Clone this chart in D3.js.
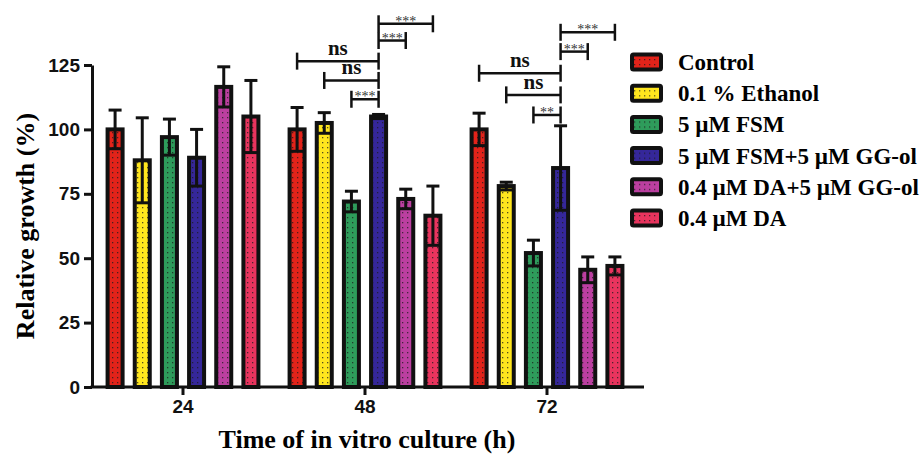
<!DOCTYPE html>
<html>
<head>
<meta charset="utf-8">
<script src="https://cdn.jsdelivr.net/npm/d3@7"></script>
<style>
  body { margin: 0; background: #fff; }
  svg { display: block; }
</style>
</head>
<body>
<div id="chart"></div>
<script>
// data
var groups = ["24", "48", "72"];
var treatments = ["Control", "0.1 % Ethanol", "5 \u00b5M FSM", "5 \u00b5M FSM+5 \u00b5M GG-ol", "0.4 \u00b5M DA+5 \u00b5M GG-ol", "0.4 \u00b5M DA"];
var colors = ["#e2231a", "#ffe61e", "#2e9c5b", "#35279a", "#bb3fa0", "#e8345e"];
var means24 = [100, 88, 97, 89, 116.5, 105];
var sd24 = [7.5, 16.5, 7, 11, 7.8, 14];
var means48 = [100, 102.5, 72, 105, 73, 66.5];
var sd48 = [8.5, 4, 4, 0.8, 3.8, 11.5];
var means72 = [100, 78, 52, 85, 45.5, 47];
var sd72 = [6.3, 1.5, 5, 16.4, 5, 3.5];
var yTicks = [0, 25, 50, 75, 100, 125];

// significance brackets: group, from bar, to bar, height (%), label
var brackets = [
  ["48", 3, 5, 141, "***"], ["48", 3, 4, 134.5, "***"], ["48", 0, 3, 126.5, "ns"],
  ["48", 1, 3, 119, "ns"], ["48", 2, 3, 111.7, "***"],
  ["72", 3, 5, 137.7, "***"], ["72", 3, 4, 130.2, "***"], ["72", 0, 3, 121.8, "ns"],
  ["72", 1, 3, 113.4, "ns"], ["72", 2, 3, 105.6, "**"]
];

var means = [means24, means48, means72];
var sds = [sd24, sd48, sd72];

const w = 924, h = 456;
const serif = "'Liberation Serif', 'Times New Roman', serif";
const sans = "'Liberation Sans', Arial, sans-serif";

const svg = d3.select("#chart").append("svg").attr("width", w).attr("height", h);

// dotted fills
var defs = svg.append("defs");
colors.forEach(function(c, i) {
  var p = defs.append("pattern").attr("id", "pat" + i)
    .attr("patternUnits", "userSpaceOnUse").attr("width", 5).attr("height", 5);
  p.append("rect").attr("width", 5).attr("height", 5).attr("fill", c);
  p.append("rect").attr("x", 2).attr("y", 2).attr("width", 1.3).attr("height", 1.3).attr("fill", "#1a1a1a").attr("opacity", 0.75);
});

const x = d3.scaleBand().domain(groups).range([92, 638]);
const xi = d3.scaleBand().domain(d3.range(treatments.length)).range([0, x.bandwidth()])
  .paddingInner(0.3).paddingOuter(0.5);
const y = d3.scaleLinear().domain([0, 125]).range([387, 65]);
const bw = xi.bandwidth();

function cx(g, i) { return x(g) + xi(i) + bw / 2; }

// bars
var rows = [];
groups.forEach(function(g, gi) {
  treatments.forEach(function(t, i) {
    rows.push({ g: g, i: i, v: means[gi][i], sd: sds[gi][i] });
  });
});

svg.selectAll("rect.bar").data(rows).enter().append("rect")
  .attr("class", "bar")
  .attr("x", d => x(d.g) + xi(d.i) + 2)
  .attr("y", d => y(d.v))
  .attr("width", bw - 4)
  .attr("height", d => y(0) - y(d.v))
  .attr("fill", d => "url(#pat" + d.i + ")")
  .attr("stroke", "#111").attr("stroke-width", 4);

// error bars
var eb = svg.append("g").attr("stroke", "#111").attr("stroke-width", 3);
rows.forEach(function(d) {
  var c = cx(d.g, d.i);
  eb.append("line").attr("x1", c).attr("x2", c).attr("y1", y(d.v + d.sd)).attr("y2", y(d.v - d.sd));
  eb.append("line").attr("x1", c - 6.5).attr("x2", c + 6.5).attr("y1", y(d.v + d.sd)).attr("y2", y(d.v + d.sd));
  eb.append("line").attr("x1", c - 6.5).attr("x2", c + 6.5).attr("y1", y(d.v - d.sd)).attr("y2", y(d.v - d.sd));
});

// brackets
var br = svg.append("g");
brackets.forEach(function(b) {
  var x1 = cx(b[0], b[1]), x2 = cx(b[0], b[2]), yy = y(b[3]);
  var l = Math.min(x1, x2), r = Math.max(x1, x2);
  var gg = br.append("g").attr("stroke", "#111").attr("stroke-width", 2.5);
  gg.append("line").attr("x1", l).attr("x2", r).attr("y1", yy).attr("y2", yy);
  gg.append("line").attr("x1", l).attr("x2", l).attr("y1", yy - 8.5).attr("y2", yy + 8.5);
  gg.append("line").attr("x1", r).attr("x2", r).attr("y1", yy - 8.5).attr("y2", yy + 8.5);
  var isNs = b[4] == "ns";
  br.append("text")
    .attr("x", (l + r) / 2)
    .attr("y", isNs ? yy - 6 : yy + 2)
    .attr("text-anchor", "middle")
    .style("font-family", serif)
    .style("font-weight", isNs ? "bold" : "normal")
    .style("font-size", isNs ? "21px" : "14px")
    .style("fill", isNs ? "#111" : "#333")
    .text(b[4]);
});

// y axis
var ya = svg.append("g").attr("transform", "translate(" + x.range()[0] + ",0)")
  .call(d3.axisLeft(y).tickValues(yTicks).tickSize(8).tickSizeOuter(0).tickPadding(4));
ya.select(".domain").attr("stroke-width", 3).attr("stroke", "#111");
ya.selectAll(".tick line").attr("stroke-width", 3).attr("stroke", "#111");
ya.selectAll(".tick text").style("font-family", sans).style("font-weight", "bold")
  .style("font-size", "19px").attr("fill", "#111");

// x axis
var xa = svg.append("g").attr("transform", "translate(0," + y(0) + ")")
  .call(d3.axisBottom(x).tickSize(8).tickSizeOuter(0).tickPadding(5));
xa.select(".domain").remove();
xa.append("line").attr("x1", x.range()[0] - 1.5).attr("x2", x.range()[1] + 6)
  .attr("stroke", "#111").attr("stroke-width", 3);
xa.selectAll(".tick line").attr("stroke-width", 3).attr("stroke", "#111");
xa.selectAll(".tick text").style("font-family", sans).style("font-weight", "bold")
  .style("font-size", "19px").attr("fill", "#111");

// axis titles
svg.append("text")
  .attr("transform", "translate(34," + (y(0) + y(125)) / 2 + ") rotate(-90)")
  .attr("text-anchor", "middle")
  .style("font-family", serif).style("font-weight", "bold").style("font-size", "26px")
  .text("Relative growth (%)");

svg.append("text")
  .attr("x", (x.range()[0] + x.range()[1]) / 2 + 2)
  .attr("y", 448)
  .attr("text-anchor", "middle")
  .style("font-family", serif).style("font-weight", "bold").style("font-size", "26px")
  .text("Time of in vitro culture (h)");

// legend
var lg = svg.append("g").attr("transform", "translate(632,62)");
treatments.forEach(function(t, i) {
  var row = lg.append("g").attr("transform", "translate(0," + i * 31.2 + ")");
  row.append("rect").attr("x", 0).attr("y", -7.5).attr("width", 29).attr("height", 15)
    .attr("fill", "url(#pat" + i + ")").attr("stroke", "#111").attr("stroke-width", 4).attr("rx", 1.5);
  row.append("text").attr("x", 46).attr("y", 8)
    .style("font-family", serif).style("font-weight", "bold").style("font-size", "23px")
    .text(t);
});
</script>
</body>
</html>
